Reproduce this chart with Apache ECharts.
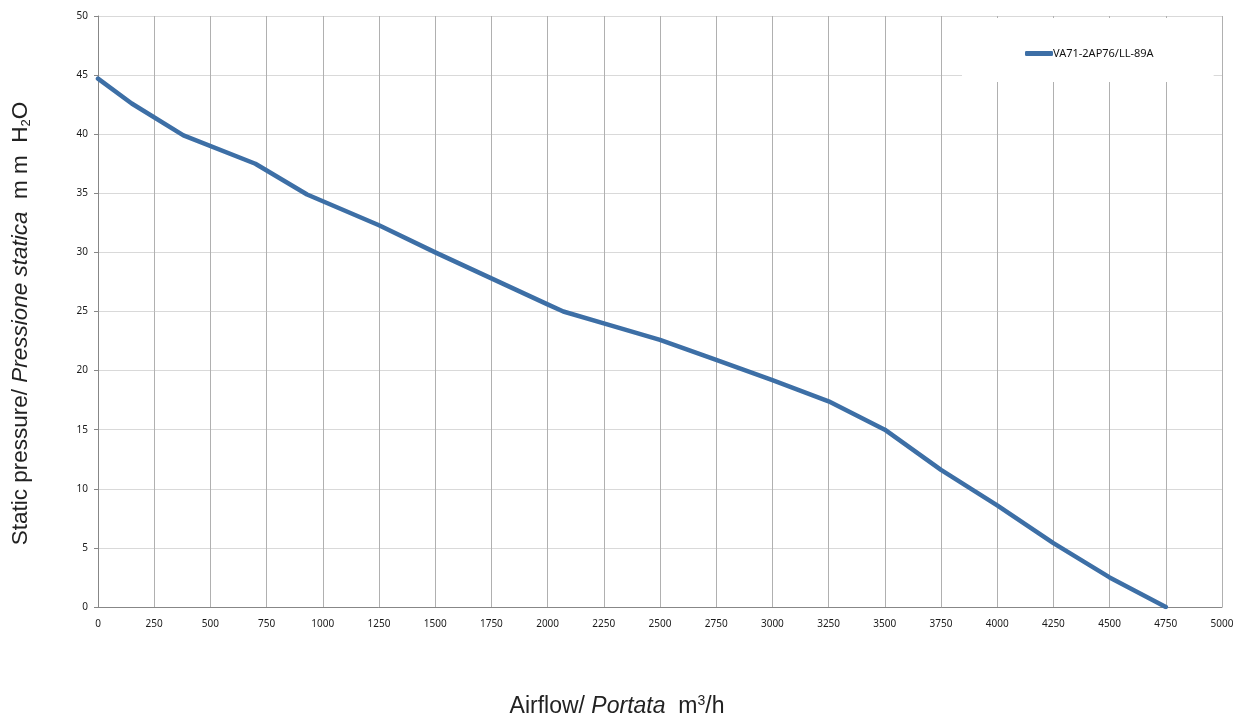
<!DOCTYPE html>
<html>
<head>
<meta charset="utf-8">
<script src="https://cdn.jsdelivr.net/npm/echarts@6/dist/echarts.min.js"></script>
<style>
html,body{margin:0;padding:0;background:#fff;}
#chart{width:1243px;height:722px;}
</style>
</head>
<body>
<div id="chart"></div>
<script>
var seriesName = 'VA71-2AP76/LL-89A';
var airflow = [0, 150, 380, 700, 930, 1250, 1500, 1750, 2000, 2070, 2250, 2500, 2750, 3000, 3250, 3500, 3750, 4000, 4250, 4500, 4750];
var pressure = [44.7, 42.6, 39.9, 37.5, 34.9, 32.3, 30.0, 27.8, 25.6, 25.0, 24.0, 22.6, 20.9, 19.2, 17.4, 15.0, 11.6, 8.6, 5.4, 2.5, 0];
var xTicks = [0, 5000, 250];
var yTicks = [0, 50, 5];

var data = airflow.map(function (v, i) { return [v, pressure[i]]; });

var chart = echarts.init(document.getElementById('chart'));
var tickFont = { fontFamily: 'Noto Sans', fontSize: 10, color: '#1a1a1a' };
chart.setOption({
  animation: false,
  backgroundColor: '#fff',
  grid: { left: 98, right: 21, top: 16, bottom: 115, containLabel: false, outerBoundsMode: 'none' },
  legend: {
    left: 962,
    top: 18,
    padding: [30, 60, 23, 63],
    backgroundColor: '#fff',
    itemWidth: 28,
    itemHeight: 5,
    itemGap: 0,
    data: [{ name: seriesName, icon: 'roundRect' }],
    itemStyle: { color: '#3d6fa6' },
    textStyle: { fontFamily: 'Noto Sans', fontSize: 11, color: '#111', padding: [0, 0, 0, -5] }
  },
  xAxis: {
    type: 'value',
    min: xTicks[0], max: xTicks[1], interval: xTicks[2],
    axisLine: { show: true, lineStyle: { color: '#878787', width: 1 } },
    axisTick: { show: false },
    axisLabel: Object.assign({ margin: 12, formatter: function (v) { return String(v); } }, tickFont),
    splitLine: { show: true, lineStyle: { color: '#b0b0b0', width: 1 } },
    name: 'Airflow/ {i|Portata}  m{sup|3}/h',
    nameLocation: 'middle',
    nameGap: 87,
    nameTextStyle: {
      fontFamily: 'Liberation Sans', fontSize: 23, color: '#222',
      padding: [0, 86, 0, 0],
      rich: {
        i: { fontFamily: 'Liberation Sans', fontSize: 23, fontStyle: 'italic', color: '#222' },
        sup: { fontFamily: 'Liberation Sans', fontSize: 14, color: '#222', verticalAlign: 'top', lineHeight: 25 }
      }
    }
  },
  yAxis: {
    type: 'value',
    min: yTicks[0], max: yTicks[1], interval: yTicks[2],
    axisLine: { show: true, lineStyle: { color: '#878787', width: 1 } },
    axisTick: { show: true, length: 4, lineStyle: { color: '#878787' } },
    axisLabel: Object.assign({ margin: 10, formatter: function (v) { return String(v); } }, tickFont),
    splitLine: { show: true, lineStyle: { color: '#d9d9d9', width: 1 } },
    name: 'Static pressure/ {i|Pressione statica}  m m  H{sub|2}O',
    nameLocation: 'middle',
    nameGap: 65,
    nameTextStyle: {
      fontFamily: 'Liberation Sans', fontSize: 22.5, color: '#222',
      padding: [0, 24, 0, 0],
      rich: {
        i: { fontFamily: 'Liberation Sans', fontSize: 22.5, fontStyle: 'italic', color: '#222' },
        sub: { fontFamily: 'Liberation Sans', fontSize: 13, color: '#222', verticalAlign: 'bottom', lineHeight: 24 }
      }
    }
  },
  series: [{
    name: seriesName,
    type: 'line',
    data: data,
    symbol: 'none',
    smooth: false,
    lineStyle: { color: '#3d6fa6', width: 4.5, cap: 'round', join: 'round' },
    itemStyle: { color: '#3d6fa6' },
    z: 3
  }]
});
</script>
</body>
</html>
